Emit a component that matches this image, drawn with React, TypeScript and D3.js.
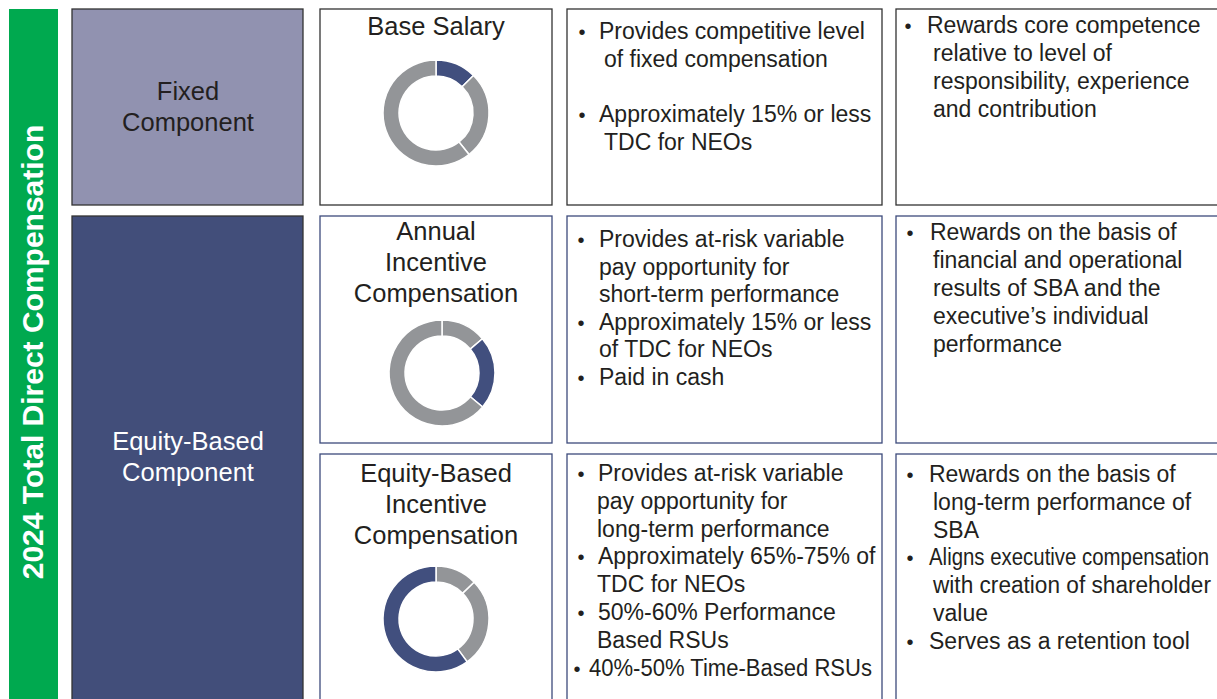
import React from "react";
import * as d3 from "d3";

// donut shares, in order: base salary, annual incentive, equity-based incentive
const segmentNames = ["Base Salary", "Annual Incentive", "Equity-Based Incentive"];
const baseSalaryShares = [12.5, 26.8, 60.7];
const annualIncentiveShares = [13.8, 22.3, 63.9];
const equityIncentiveShares = [12.8, 27.2, 60.0];

const chartTitle = "2024 Total Direct Compensation";
const componentLabels = [["Fixed", "Component"], ["Equity-Based", "Component"]];
const elementTitles = [
  ["Base Salary"],
  ["Annual", "Incentive", "Compensation"],
  ["Equity-Based", "Incentive", "Compensation"],
];

// what each element provides
const purposeBullets = [
  [["Provides competitive level", "of fixed compensation"], ["Approximately 15% or less", "TDC for NEOs"]],
  [
    ["Provides at-risk variable", "pay opportunity for", "short-term performance"],
    ["Approximately 15% or less", "of TDC for NEOs"],
    ["Paid in cash"],
  ],
  [
    ["Provides at-risk variable", "pay opportunity for", "long-term performance"],
    ["Approximately 65%-75% of", "TDC for NEOs"],
    ["50%-60% Performance", "Based RSUs"],
    ["40%-50% Time-Based RSUs"],
  ],
];

// what each element rewards
const rationaleBullets = [
  [["Rewards core competence", "relative to level of", "responsibility, experience", "and contribution"]],
  [["Rewards on the basis of", "financial and operational", "results of SBA and the", "executive\u2019s individual", "performance"]],
  [
    ["Rewards on the basis of", "long-term performance of", "SBA"],
    ["Aligns executive compensation", "with creation of shareholder", "value"],
    ["Serves as a retention tool"],
  ],
];

const donutData = [baseSalaryShares, annualIncentiveShares, equityIncentiveShares];
const highlight = [0, 1, 2];

const W = 1217;
const H = 699;
const FONT = "'Liberation Sans', Arial, sans-serif";
const INK = "#231f20";
const GREY = "#939598";
const NAVY = "#414f7e";

const colX = [72, 320, 567, 896];
const colW = [231, 232, 315, 340];
const rowY = [9, 216, 454];
const rowH = [196, 227, 270];

// per row: first baseline of titles, donut centre
const titleBase = [35, 239.5, 481.5];
const donutCy = [113, 373, 619];
const donutCx = [436, 442, 436];

// bullet box layout per row/column
const purposeLayout = [
  { y0: 39, lh: 27.5, gap: 28, bx: 582, tx: 599, cx: 604 },
  { y0: 247, lh: 27.5, gap: 0, bx: 581, tx: 599, cx: 599 },
  { y0: 481, lh: 27.8, gap: 0, bx: 581, tx: 598, cx: 597 },
];
const rationaleLayout = [
  { y0: 33, lh: 28, gap: 0, bx: 908, tx: 927, cx: 933 },
  { y0: 240, lh: 28, gap: 0, bx: 910, tx: 930, cx: 933 },
  { y0: 482, lh: 27.8, gap: 0, bx: 910, tx: 929, cx: 933 },
];

// lines squeezed in the original to fit their box
const squeezed: Record<string, number> = {
  "40%-50% Time-Based RSUs": 283,
  "Aligns executive compensation": 280,
  "with creation of shareholder": 278,
};

const pie = d3.pie<number>().sort(null).value((d) => d);
const arc = d3.arc<d3.PieArcDatum<number>>().innerRadius(37).outerRadius(53);

function Bullets({ items, lay, tight }: any) {
  const out: any[] = [];
  let line = 0;
  items.forEach((item: string[], i: number) => {
    item.forEach((t, j) => {
      const y = lay.y0 + line * lay.lh + i * lay.gap;
      const isLastTight = tight && i === items.length - 1;
      if (j === 0) {
        out.push(
          <text key={`b${i}`} x={isLastTight ? lay.bx - 4 : lay.bx} y={y} textAnchor="middle" fontSize={20}>
            {"\u2022"}
          </text>
        );
      }
      const len = squeezed[t];
      out.push(
        <text
          key={`t${i}-${j}`}
          x={j === 0 ? (isLastTight ? lay.tx - 9 : lay.tx) : lay.cx}
          y={y}
          textLength={len}
          lengthAdjust={len ? "spacingAndGlyphs" : undefined}
        >
          {t}
        </text>
      );
      line++;
    });
  });
  return <g fontSize={23} fill={INK}>{out}</g>;
}

export default function App() {
  return (
    <svg width={W} height={H} style={{ position: "absolute", left: 0, top: 0, background: "#fff" }} fontFamily={FONT}>
      {/* green side banner */}
      <rect x={9} y={9} width={49} height={H} fill="#00a94f" />
      <text
        transform={`translate(43,352) rotate(-90)`}
        textAnchor="middle"
        fill="#fff"
        fontWeight="bold"
        fontSize={30}
      >
        {chartTitle}
      </text>

      {/* component boxes */}
      <rect x={colX[0]} y={rowY[0]} width={colW[0]} height={rowH[0]} fill="#9192b0" stroke="#333" strokeWidth={1.3} />
      <rect x={colX[0]} y={rowY[1]} width={colW[0]} height={H} fill="#424e7a" stroke="#333" strokeWidth={1.3} />
      {componentLabels[0].map((t, i) => (
        <text key={t} x={188} y={100 + i * 31} textAnchor="middle" fontSize={25.5} fill={INK}>
          {t}
        </text>
      ))}
      {componentLabels[1].map((t, i) => (
        <text key={t} x={188} y={449.5 + i * 31} textAnchor="middle" fontSize={25.5} fill="#fff">
          {t}
        </text>
      ))}

      {/* detail boxes */}
      {rowY.map((y, r) =>
        [1, 2, 3].map((c) => (
          <rect
            key={`${r}-${c}`}
            x={colX[c]}
            y={y}
            width={colW[c]}
            height={rowH[r]}
            fill="#fff"
            stroke={r === 0 ? "#333" : "#3d4b7c"}
            strokeWidth={1.3}
          />
        ))
      )}

      {/* titles and donuts */}
      {elementTitles.map((lines, r) => (
        <g key={`title${r}`}>
          {lines.map((t, i) => (
            <text key={t} x={436} y={titleBase[r] + i * 31.2} textAnchor="middle" fontSize={25.5} fill={INK}>
              {t}
            </text>
          ))}
          <g transform={`translate(${donutCx[r]},${donutCy[r]})`}>
            {pie(donutData[r]).map((s, i) => (
              <path
                key={segmentNames[i]}
                d={arc(s) || ""}
                fill={i === highlight[r] ? NAVY : GREY}
                stroke="#fff"
                strokeWidth={1.5}
              />
            ))}
          </g>
        </g>
      ))}

      {purposeBullets.map((items, r) => (
        <Bullets key={`p${r}`} items={items} lay={purposeLayout[r]} tight={r === 2} />
      ))}
      {rationaleBullets.map((items, r) => (
        <Bullets key={`q${r}`} items={items} lay={rationaleLayout[r]} tight={false} />
      ))}
    </svg>
  );
}
